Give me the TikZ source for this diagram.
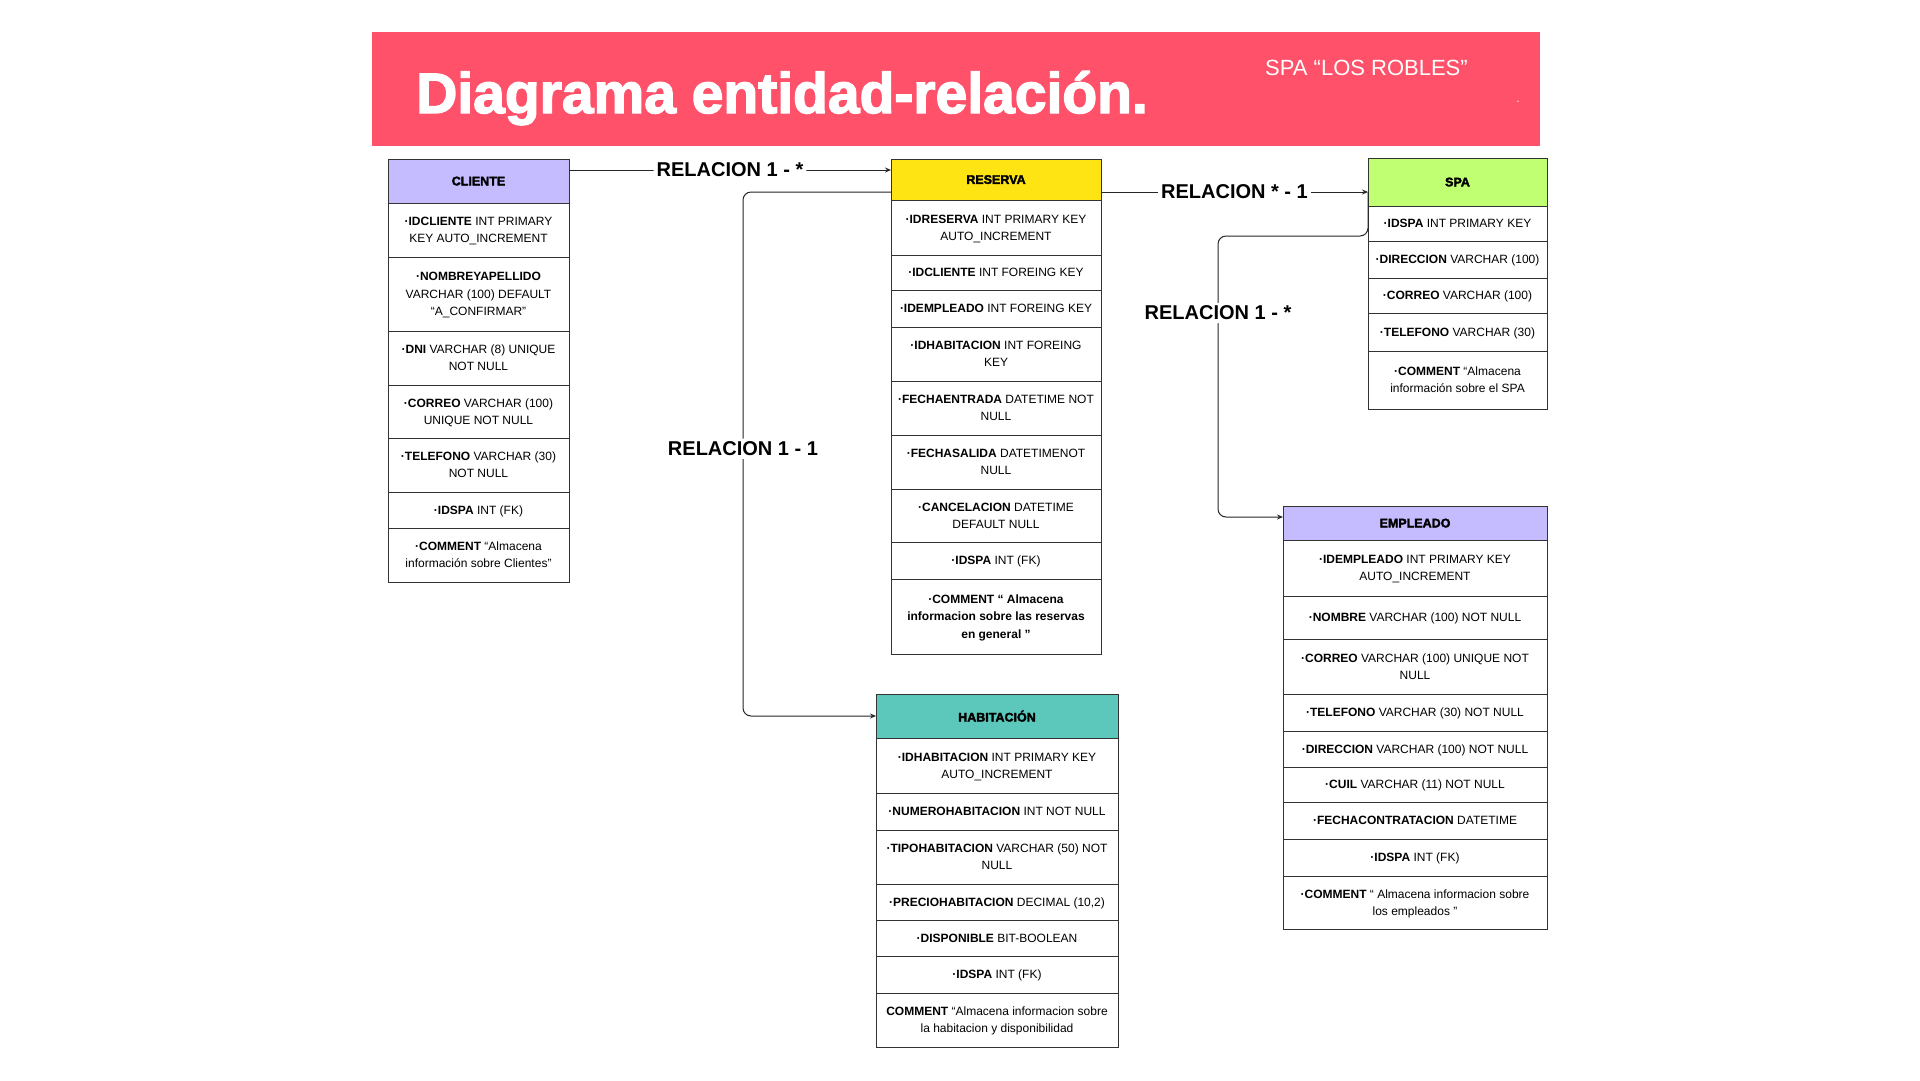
\documentclass[tikz,border=0pt]{standalone}
\usepackage{fontspec}
\setmainfont{Liberation Sans}
\newfontfamily\negra{Liberation Sans}[BoldFeatures={FakeBold=2.5}]
\usepackage{tikz}
\usetikzlibrary{positioning,arrows.meta}
\definecolor{rosa}{RGB}{255,81,106}
\definecolor{lila}{RGB}{197,187,255}
\definecolor{amarillo}{RGB}{255,228,20}
\definecolor{verde}{RGB}{193,255,114}
\definecolor{turquesa}{RGB}{92,200,187}

\begin{document}
\begin{tikzpicture}[x=1pt, y=-1pt,
    fila/.style = {draw=black!80, line width=1pt, fill=white, outer sep=0pt, inner xsep=2pt, inner ysep=0pt, text depth=0pt, align=center, font=\fontsize{12}{17.2}\selectfont},
    cabeza/.style = {fila, font=\fontsize{12.5}{15}\selectfont\negra\bfseries},
    cliente/.style = {fila, minimum width=181pt},
    reserva/.style = {fila, minimum width=210pt},
    habitacion/.style = {fila, minimum width=242pt},
    spa/.style = {fila, minimum width=179pt},
    empleado/.style = {fila, minimum width=264pt},
    relacion/.style = {draw=black!85, line width=1pt, rounded corners=8pt, -{Stealth[length=6pt,width=5pt]}},
    etiq/.style = {fill=white, inner sep=3pt, font=\fontsize{20}{24}\selectfont\bfseries}]
  \useasboundingbox (0,0) rectangle (1920,1080);
  \fill[white] (0,0) rectangle (1920,1080);

  % cabecera
  \node[fill=rosa, minimum width=1168pt, minimum height=114pt, inner sep=0pt, anchor=north west] (banda) at (372,32) {};
  \node[anchor=base west, inner sep=0pt, text=white, font=\fontsize{57}{60}\selectfont\negra\bfseries] (titulo) at (416,113) {Diagrama entidad-relación.};
  \node[anchor=base west, inner sep=0pt, text=white, font=\fontsize{22}{24}\selectfont] (spanombre) at (1265,75) {SPA “LOS ROBLES”};
  \node[anchor=base, inner sep=0pt, text=white, font=\fontsize{12}{14}\selectfont] (punto) at (1518,102) {.};

  % CLIENTE
  \node[cabeza, fill=lila, minimum width=181pt, minimum height=44pt, anchor=north] (cli) at (478.5,159) {CLIENTE};
  \node[cliente, minimum height=54pt, below=0pt of cli] (cli1) {\textbf{·IDCLIENTE} INT PRIMARY\\KEY AUTO\_INCREMENT};
  \node[cliente, minimum height=74pt, below=0pt of cli1] (cli2) {\textbf{·NOMBREYAPELLIDO}\\VARCHAR (100) DEFAULT\\“A\_CONFIRMAR”};
  \node[cliente, minimum height=54pt, below=0pt of cli2] (cli3) {\textbf{·DNI} VARCHAR (8) UNIQUE\\NOT NULL};
  \node[cliente, minimum height=53pt, below=0pt of cli3] (cli4) {\textbf{·CORREO} VARCHAR (100)\\UNIQUE NOT NULL};
  \node[cliente, minimum height=54pt, below=0pt of cli4] (cli5) {\textbf{·TELEFONO} VARCHAR (30)\\NOT NULL};
  \node[cliente, minimum height=36pt, below=0pt of cli5] (cli6) {\textbf{·IDSPA} INT (FK)};
  \node[cliente, minimum height=54pt, below=0pt of cli6] (cli7) {\textbf{·COMMENT} “Almacena\\información sobre Clientes”};

  % RESERVA
  \node[cabeza, fill=amarillo, minimum width=210pt, minimum height=41pt, anchor=north] (res) at (996,159) {RESERVA};
  \node[reserva, minimum height=55pt, below=0pt of res] (res1) {\textbf{·IDRESERVA} INT PRIMARY KEY\\AUTO\_INCREMENT};
  \node[reserva, minimum height=35pt, below=0pt of res1] (res2) {\textbf{·IDCLIENTE} INT FOREING KEY};
  \node[reserva, minimum height=37pt, below=0pt of res2] (res3) {\textbf{·IDEMPLEADO} INT FOREING KEY};
  \node[reserva, minimum height=54pt, below=0pt of res3] (res4) {\textbf{·IDHABITACION} INT FOREING\\KEY};
  \node[reserva, minimum height=54pt, below=0pt of res4] (res5) {\textbf{·FECHAENTRADA} DATETIME NOT\\NULL};
  \node[reserva, minimum height=54pt, below=0pt of res5] (res6) {\textbf{·FECHASALIDA} DATETIMENOT\\NULL};
  \node[reserva, minimum height=53pt, below=0pt of res6] (res7) {\textbf{·CANCELACION} DATETIME\\DEFAULT NULL};
  \node[reserva, minimum height=37pt, below=0pt of res7] (res8) {\textbf{·IDSPA} INT (FK)};
  \node[reserva, minimum height=75pt, below=0pt of res8, font=\fontsize{12}{17.2}\selectfont\bfseries] (res9) {·COMMENT “ Almacena\\informacion sobre las reservas\\en general ”};

  % HABITACION
  \node[cabeza, fill=turquesa, minimum width=242pt, minimum height=44pt, anchor=north] (hab) at (997,694) {HABITACIÓN};
  \node[habitacion, minimum height=55pt, below=0pt of hab] (hab1) {\textbf{·IDHABITACION} INT PRIMARY KEY\\AUTO\_INCREMENT};
  \node[habitacion, minimum height=37pt, below=0pt of hab1] (hab2) {\textbf{·NUMEROHABITACION} INT NOT NULL};
  \node[habitacion, minimum height=54pt, below=0pt of hab2] (hab3) {\textbf{·TIPOHABITACION} VARCHAR (50) NOT\\NULL};
  \node[habitacion, minimum height=36pt, below=0pt of hab3] (hab4) {\textbf{·PRECIOHABITACION} DECIMAL (10,2)};
  \node[habitacion, minimum height=36pt, below=0pt of hab4] (hab5) {\textbf{·DISPONIBLE} BIT-BOOLEAN};
  \node[habitacion, minimum height=37pt, below=0pt of hab5] (hab6) {\textbf{·IDSPA} INT (FK)};
  \node[habitacion, minimum height=54pt, below=0pt of hab6] (hab7) {\textbf{COMMENT} “Almacena informacion sobre\\la habitacion y disponibilidad};

  % SPA
  \node[cabeza, fill=verde, minimum width=179pt, minimum height=48pt, anchor=north] (spa) at (1457.5,158) {SPA};
  \node[spa, minimum height=35pt, below=0pt of spa] (spa1) {\textbf{·IDSPA} INT PRIMARY KEY};
  \node[spa, minimum height=37pt, below=0pt of spa1] (spa2) {\textbf{·DIRECCION} VARCHAR (100)};
  \node[spa, minimum height=35pt, below=0pt of spa2] (spa3) {\textbf{·CORREO} VARCHAR (100)};
  \node[spa, minimum height=38pt, below=0pt of spa3] (spa4) {\textbf{·TELEFONO} VARCHAR (30)};
  \node[spa, minimum height=58pt, below=0pt of spa4] (spa5) {\textbf{·COMMENT} “Almacena\\información sobre el SPA};

  % EMPLEADO
  \node[cabeza, fill=lila, minimum width=264pt, minimum height=34pt, anchor=north] (emp) at (1415,506) {EMPLEADO};
  \node[empleado, minimum height=56pt, below=0pt of emp] (emp1) {\textbf{·IDEMPLEADO} INT PRIMARY KEY\\AUTO\_INCREMENT};
  \node[empleado, minimum height=43pt, below=0pt of emp1] (emp2) {\textbf{·NOMBRE} VARCHAR (100) NOT NULL};
  \node[empleado, minimum height=55pt, below=0pt of emp2] (emp3) {\textbf{·CORREO} VARCHAR (100) UNIQUE NOT\\NULL};
  \node[empleado, minimum height=37pt, below=0pt of emp3] (emp4) {\textbf{·TELEFONO} VARCHAR (30) NOT NULL};
  \node[empleado, minimum height=36pt, below=0pt of emp4] (emp5) {\textbf{·DIRECCION} VARCHAR (100) NOT NULL};
  \node[empleado, minimum height=35pt, below=0pt of emp5] (emp6) {\textbf{·CUIL} VARCHAR (11) NOT NULL};
  \node[empleado, minimum height=37pt, below=0pt of emp6] (emp7) {\textbf{·FECHACONTRATACION} DATETIME};
  \node[empleado, minimum height=37pt, below=0pt of emp7] (emp8) {\textbf{·IDSPA} INT (FK)};
  \node[empleado, minimum height=53pt, below=0pt of emp8] (emp9) {\textbf{·COMMENT} “ Almacena informacion sobre\\los empleados ”};

  % relaciones
  \draw[relacion] ([yshift=-11pt]cli.north east) -- node[etiq] {RELACION 1 - *} ([yshift=-11pt]res.north west);
  \draw[relacion] ([yshift=-33pt]res.north west) -- ++(-148,0) |- node[etiq, pos=0.245] {RELACION 1 - 1} (hab.west);
  \draw[relacion] ([yshift=-33pt]res.north east) -- node[etiq] {RELACION * - 1} ([yshift=-34pt]spa.north west);
  \draw[relacion] ([yshift=-34pt]spa.north west) -- ++(0,44) -- ++(-150,0) |- node[etiq, pos=0.137] {RELACION 1 - *} ([yshift=-11pt]emp.north west);
\end{tikzpicture}
\end{document}
